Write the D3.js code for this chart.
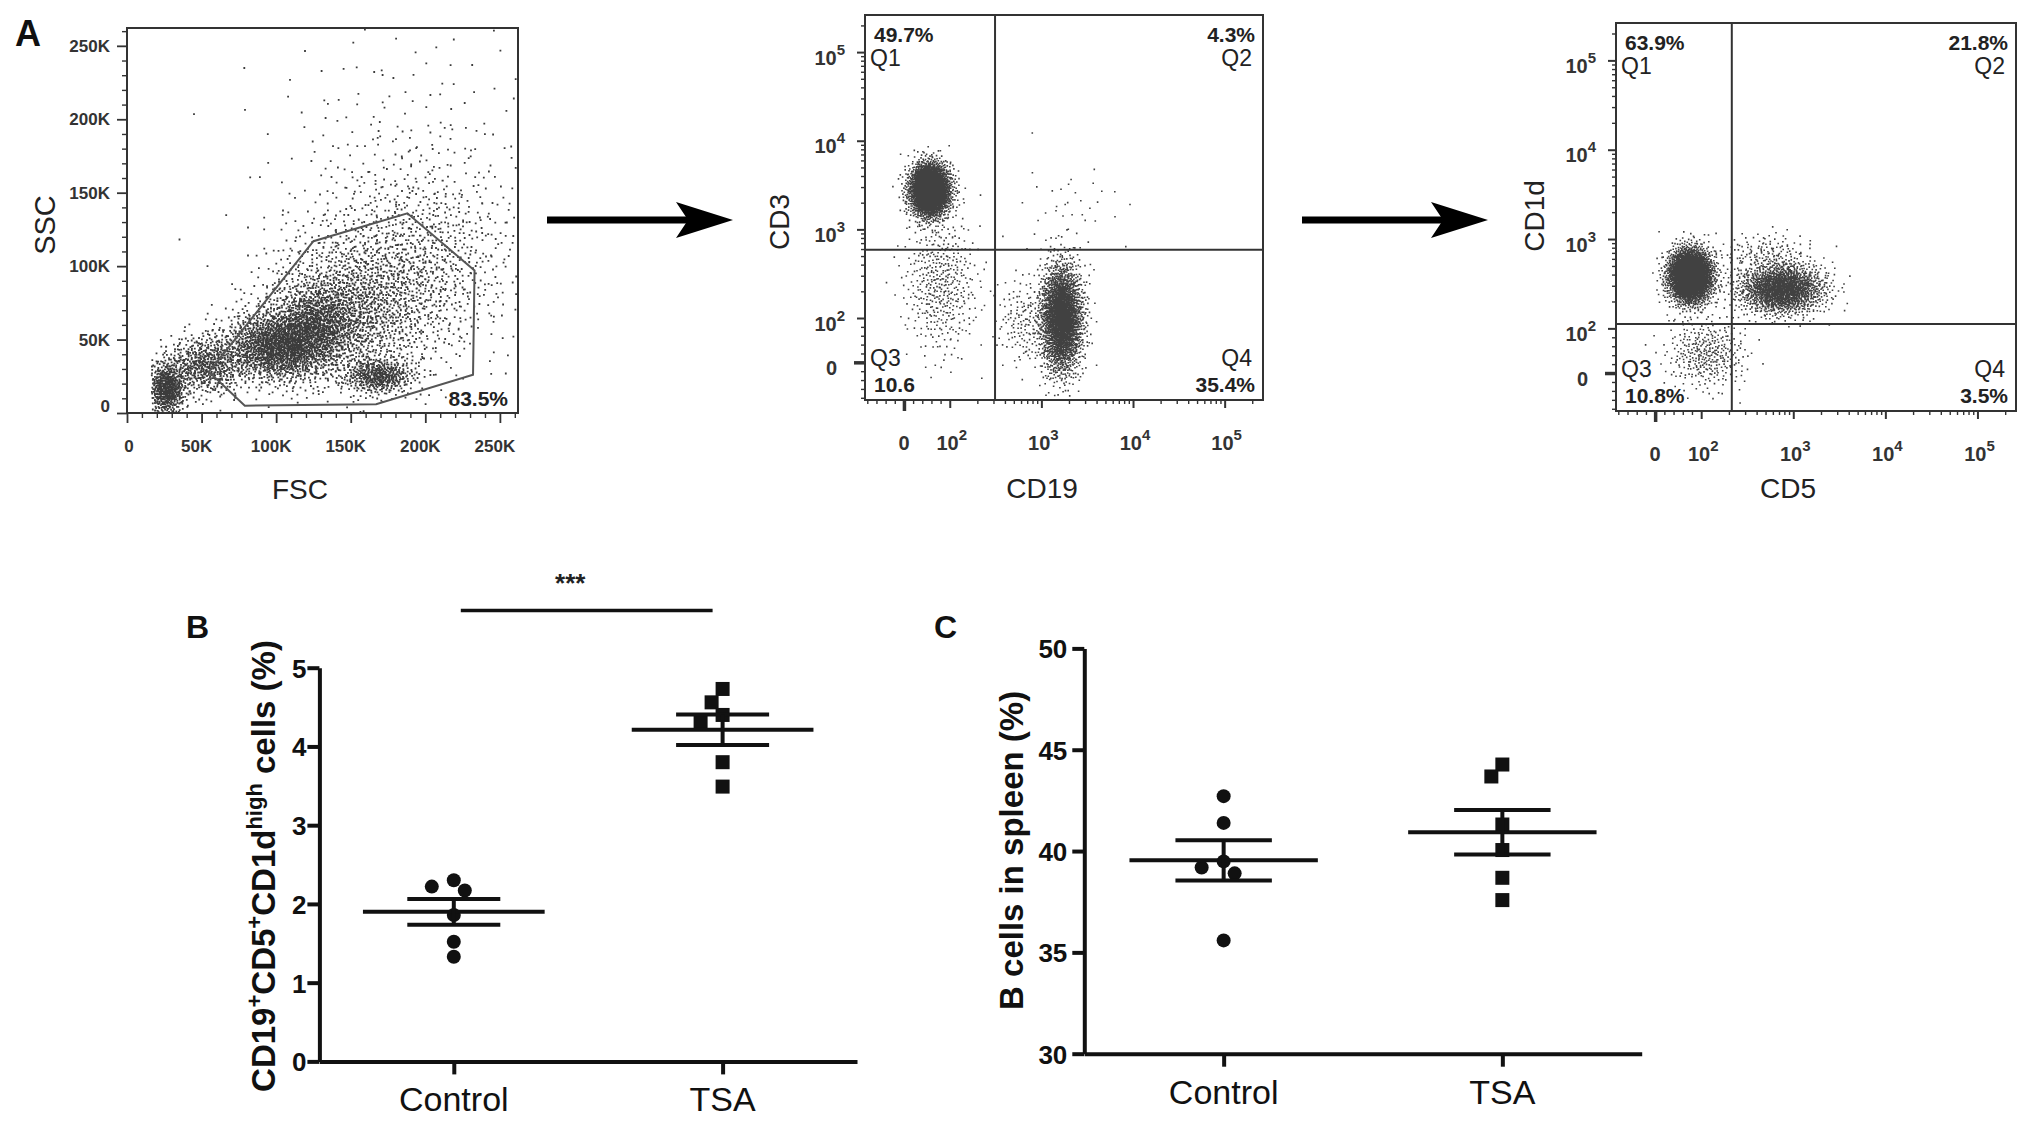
<!DOCTYPE html>
<html>
<head>
<meta charset="utf-8">
<title>Regulatory B cells - gating and TSA</title>
<script src="https://cdn.jsdelivr.net/npm/d3@7"></script>
<style>
  body { margin: 0; background: #fff; }
  text { font-family: "Liberation Sans", Arial, sans-serif; }
</style>
</head>
<body>
<div id="chart"></div>
<script>

// ---------- data ----------

// Panel A, FSC / SSC (values in K)
var fscTicks = [0, 50, 100, 150, 200, 250];
var fscGate = [[55, 28], [125, 117], [188, 136], [233, 97], [232, 26], [167, 6], [79, 5]];
var fscGatePct = "83.5%";
// populations: [centre FSC, centre SSC, spread FSC, spread SSC, events]
var fscPops = [
  [26, 17, 6, 9, 550],
  [52, 33, 14, 10, 600],
  [102, 46, 19, 12, 1700],
  [127, 62, 15, 13, 800],
  [150, 72, 30, 26, 1500],
  [168, 26, 12, 6, 450],
  [195, 105, 33, 33, 800],
  [185, 165, 50, 50, 250]
];

// CD19 / CD3 (centres as intensities, spread in decades)
var cd19Pops = [
  [55, 2840, 0.11, 0.15, 2600],
  [79, 250, 0.2, 0.4, 450],
  [1630, 100, 0.115, 0.3, 2500],
  [620, 94, 0.15, 0.25, 150],
  [2000, 1580, 0.3, 0.3, 40]
];
var cd19Gate = [312, 590];
var cd19Quads = ["49.7%", "4.3%", "10.6", "35.4%"];

// CD5 / CD1d
var cd5Pops = [
  [75, 395, 0.12, 0.15, 2800],
  [733, 281, 0.23, 0.14, 1700],
  [112, 45, 0.22, 0.2, 350],
  [500, 700, 0.25, 0.12, 150]
];
var cd5Gate = [215, 112];
var cd5Quads = ["63.9%", "21.8%", "10.8%", "3.5%"];

var logTicks = [0, 1e2, 1e3, 1e4, 1e5];

// Panels B and C
var groups = ["Control", "TSA"];
var bregControl = [2.30, 2.22, 2.17, 1.86, 1.52, 1.33];
var bregTSA = [4.73, 4.56, 4.40, 4.30, 3.80, 3.49];
var bregTicks = [0, 1, 2, 3, 4, 5];
var bcellControl = [42.71, 41.39, 39.49, 39.19, 38.90, 35.59];
var bcellTSA = [44.27, 43.68, 41.31, 40.05, 38.68, 37.58];
var bcellTicks = [30, 35, 40, 45, 50];

// ---------- helpers ----------

var svg = d3.select("#chart").append("svg")
  .attr("width", 2031).attr("height", 1129)
  .style("background", "#fff");

// biexponential-like display: linear below 100, log above
function biex(v) { return v <= 100 ? v / 200 : 0.5 + Math.log10(v / 100); }

// low discrepancy sequence, spreads the events of each population
function halton(i, b) {
  var f = 1, r = 0;
  while (i > 0) { f /= b; r += f * (i % b); i = Math.floor(i / b); }
  return r;
}
function spread(pops, offset) {
  var pts = [], k = offset;
  pops.forEach(function(p) {
    for (var j = 0; j < p[4]; j++, k++) {
      var u1 = halton(k + 1, 2), u2 = halton(k + 1, 3);
      var r = Math.sqrt(-2 * Math.log(u1)), a = 2 * Math.PI * u2;
      pts.push([p[0], p[1], p[2] * r * Math.cos(a), p[3] * r * Math.sin(a)]);
    }
  });
  return pts;
}
function dotPath(pts, fx, fy, s) {
  var out = "";
  pts.forEach(function(p) {
    var x = fx(p), y = fy(p);
    if (x == null || y == null) return;
    out += "M" + x.toFixed(1) + "," + y.toFixed(1) + "h" + s + "v" + s + "h-" + s + "z";
  });
  return out;
}
function styleTicks(g, w) {
  g.select(".domain").remove();
  g.selectAll("line").attr("stroke", "#333").attr("stroke-width", w);
}
function arrow(x0, x1, y) {
  svg.append("line").attr("x1", x0).attr("x2", x1 - 40).attr("y1", y).attr("y2", y)
    .attr("stroke", "#000").attr("stroke-width", 7);
  svg.append("path")
    .attr("d", "M" + x1 + "," + y + "L" + (x1 - 57) + "," + (y - 18) + "L" + (x1 - 45) + "," + y +
      "L" + (x1 - 57) + "," + (y + 18) + "Z")
    .attr("fill", "#000");
}

// ---------- panel A : FSC / SSC ----------
var A = {x0: 127, x1: 518, y0: 28, y1: 413};
var ax = d3.scaleLinear().domain([0, 262.144]).range([A.x0, A.x1]);
var ay = d3.scaleLinear().domain([0, 262.144]).range([A.y1, A.y0]);

svg.append("clipPath").attr("id", "clipA").append("rect")
  .attr("x", A.x0).attr("y", A.y0).attr("width", A.x1 - A.x0).attr("height", A.y1 - A.y0);

var ptsA = spread(fscPops, 0);
svg.append("path").attr("clip-path", "url(#clipA)")
  .attr("fill", "#1a1a1a").attr("fill-opacity", 0.85)
  .attr("d", dotPath(ptsA,
    function(p) { var v = p[0] + p[2]; return v < 16 ? null : ax(v); },
    function(p) { var v = p[1] + p[3]; return v < 0 ? null : ay(v); }, 1.8));

svg.append("path")
  .attr("d", d3.line().x(function(d) { return ax(d[0]); }).y(function(d) { return ay(d[1]); })
    .curve(d3.curveLinearClosed)(fscGate))
  .attr("fill", "none").attr("stroke", "#555").attr("stroke-width", 2);

svg.append("rect").attr("x", A.x0).attr("y", A.y0)
  .attr("width", A.x1 - A.x0).attr("height", A.y1 - A.y0)
  .attr("fill", "none").attr("stroke", "#333").attr("stroke-width", 2);

var minorA = d3.range(10, 262, 10).filter(function(v) { return v % 50 !== 0; });
svg.append("g").attr("transform", "translate(0," + A.y1 + ")")
  .call(d3.axisBottom(ax).tickValues(fscTicks).tickSize(10).tickFormat(""))
  .call(styleTicks, 1.8);
svg.append("g").attr("transform", "translate(0," + A.y1 + ")")
  .call(d3.axisBottom(ax).tickValues(minorA).tickSize(5).tickFormat(""))
  .call(styleTicks, 1.4);
svg.append("g").attr("transform", "translate(" + A.x0 + ",0)")
  .call(d3.axisLeft(ay).tickValues(fscTicks).tickSize(10).tickFormat(""))
  .call(styleTicks, 1.8);
svg.append("g").attr("transform", "translate(" + A.x0 + ",0)")
  .call(d3.axisLeft(ay).tickValues(minorA).tickSize(5).tickFormat(""))
  .call(styleTicks, 1.4);

function kLabel(v) { return v === 0 ? "0" : v + "K"; }
svg.append("g").selectAll("text").data(fscTicks).join("text")
  .attr("x", function(d) { return ax(d) - (d === 0 ? -2 : 5); })
  .attr("y", A.y1 + 39)
  .attr("text-anchor", "middle").attr("font-size", 17).attr("font-weight", "bold").attr("fill", "#333")
  .text(kLabel);
svg.append("g").selectAll("text").data(fscTicks).join("text")
  .attr("x", A.x0 - 17)
  .attr("y", function(d) { return ay(d) + (d === 0 ? -1 : 6); })
  .attr("text-anchor", "end").attr("font-size", 17).attr("font-weight", "bold").attr("fill", "#333")
  .text(kLabel);

svg.append("text").attr("x", A.x1 - 10).attr("y", A.y1 - 7)
  .attr("text-anchor", "end").attr("font-size", 21).attr("font-weight", "bold").attr("fill", "#222")
  .text(fscGatePct);
svg.append("text").attr("x", 300).attr("y", 499)
  .attr("text-anchor", "middle").attr("font-size", 28).attr("fill", "#222").text("FSC");
svg.append("text").attr("transform", "translate(55,225) rotate(-90)")
  .attr("text-anchor", "middle").attr("font-size", 29).attr("fill", "#222").text("SSC");
svg.append("text").attr("x", 15).attr("y", 46)
  .attr("font-size", 36).attr("font-weight", "bold").attr("fill", "#111").text("A");

// ---------- quadrant panels ----------
function logPanel(id, B, pops, offset, gate, quads, xTitle, yTitle, xt, yt) {
  var x = d3.scaleLinear().domain([biex(-85), biex(262144)]).range([B.x0, B.x1]);
  var y = d3.scaleLinear().domain([biex(-85), biex(262144)]).range([B.y1, B.y0]);

  svg.append("clipPath").attr("id", id).append("rect")
    .attr("x", B.x0).attr("y", B.y0).attr("width", B.x1 - B.x0).attr("height", B.y1 - B.y0);

  var pts = spread(pops, offset);
  svg.append("path").attr("clip-path", "url(#" + id + ")")
    .attr("fill", "#111").attr("fill-opacity", 0.8)
    .attr("d", dotPath(pts,
      function(p) { return x(biex(p[0]) + p[2]); },
      function(p) { return y(biex(p[1]) + p[3]); }, 1.6));

  // quadrant gates
  svg.append("line").attr("x1", x(biex(gate[0]))).attr("x2", x(biex(gate[0])))
    .attr("y1", B.y0).attr("y2", B.y1).attr("stroke", "#333").attr("stroke-width", 2);
  svg.append("line").attr("x1", B.x0).attr("x2", B.x1)
    .attr("y1", y(biex(gate[1]))).attr("y2", y(biex(gate[1]))).attr("stroke", "#333").attr("stroke-width", 2);

  svg.append("rect").attr("x", B.x0).attr("y", B.y0)
    .attr("width", B.x1 - B.x0).attr("height", B.y1 - B.y0)
    .attr("fill", "none").attr("stroke", "#333").attr("stroke-width", 2);

  // ticks
  var minors = [-80, -60, -40, -20, 20, 40, 60, 80];
  [100, 1000, 10000].forEach(function(dec) {
    for (var k = 2; k <= 9; k++) minors.push(k * dec);
  });
  minors.push(200000);
  var tx = function(v) { return x(biex(v)); }, ty = function(v) { return y(biex(v)); };
  var sx = d3.scaleLinear().domain(x.range()).range(x.range());
  var sy = d3.scaleLinear().domain(y.range()).range(y.range());
  svg.append("g").attr("transform", "translate(0," + B.y1 + ")")
    .call(d3.axisBottom(sx).tickValues(logTicks.slice(1).map(tx)).tickSize(8).tickFormat(""))
    .call(styleTicks, 2);
  svg.append("g").attr("transform", "translate(0," + B.y1 + ")")
    .call(d3.axisBottom(sx).tickValues(minors.map(tx)).tickSize(4).tickFormat(""))
    .call(styleTicks, 1.4);
  svg.append("g").attr("transform", "translate(0," + B.y1 + ")")
    .call(d3.axisBottom(sx).tickValues([tx(0)]).tickSize(11).tickFormat(""))
    .call(styleTicks, 3.5);
  svg.append("g").attr("transform", "translate(" + B.x0 + ",0)")
    .call(d3.axisLeft(sy).tickValues(logTicks.slice(1).map(ty)).tickSize(8).tickFormat(""))
    .call(styleTicks, 2);
  svg.append("g").attr("transform", "translate(" + B.x0 + ",0)")
    .call(d3.axisLeft(sy).tickValues(minors.map(ty)).tickSize(4).tickFormat(""))
    .call(styleTicks, 1.4);
  svg.append("g").attr("transform", "translate(" + B.x0 + ",0)")
    .call(d3.axisLeft(sy).tickValues([ty(0)]).tickSize(11).tickFormat(""))
    .call(styleTicks, 3.5);

  // tick labels
  function powLabel(sel) {
    sel.each(function(d) {
      var t = d3.select(this);
      if (d === 0) { t.text("0"); return; }
      t.append("tspan").text("10");
      t.append("tspan").attr("font-size", 15).attr("dy", -10).text(Math.round(Math.log10(d)));
    });
  }
  svg.append("g").selectAll("text").data(logTicks).join("text")
    .attr("x", function(d) { return tx(d) + (d === 0 ? 0 : 2); })
    .attr("y", B.y1 + 50)
    .attr("text-anchor", "middle").attr("font-size", 20).attr("font-weight", "bold").attr("fill", "#333")
    .call(powLabel);
  svg.append("g").selectAll("text").data(logTicks).join("text")
    .attr("x", function(d) { return B.x0 - (d === 0 ? 28 : 20); })
    .attr("y", function(d) { return ty(d) + 12.5; })
    .attr("text-anchor", "end").attr("font-size", 20).attr("font-weight", "bold").attr("fill", "#333")
    .call(powLabel);

  // quadrant labels
  var q = [
    {t: quads[0], x: B.x0 + 9, y: B.y0 + 27, a: "start", b: true},
    {t: "Q1", x: B.x0 + 5, y: B.y0 + 51, a: "start"},
    {t: quads[1], x: B.x1 - 8, y: B.y0 + 27, a: "end", b: true},
    {t: "Q2", x: B.x1 - 11, y: B.y0 + 51, a: "end"},
    {t: "Q3", x: B.x0 + 5, y: B.y1 - 34, a: "start"},
    {t: quads[2], x: B.x0 + 9, y: B.y1 - 8, a: "start", b: true},
    {t: "Q4", x: B.x1 - 11, y: B.y1 - 34, a: "end"},
    {t: quads[3], x: B.x1 - 8, y: B.y1 - 8, a: "end", b: true}
  ];
  svg.append("g").selectAll("text").data(q).join("text")
    .attr("x", function(d) { return d.x; }).attr("y", function(d) { return d.y; })
    .attr("text-anchor", function(d) { return d.a; })
    .attr("font-size", function(d) { return d.b ? 21 : 23; })
    .attr("font-weight", function(d) { return d.b ? "bold" : "normal"; })
    .attr("fill", "#222")
    .text(function(d) { return d.t; });

  svg.append("text").attr("x", xt[0]).attr("y", xt[1] + 10)
    .attr("text-anchor", "middle").attr("font-size", 28).attr("fill", "#222").text(xTitle);
  svg.append("text").attr("transform", "translate(" + (yt[0] + 10) + "," + yt[1] + ") rotate(-90)")
    .attr("text-anchor", "middle").attr("font-size", 28).attr("fill", "#222").text(yTitle);
}

logPanel("clipQ1", {x0: 865, x1: 1263, y0: 15, y1: 400}, cd19Pops, 20000, cd19Gate, cd19Quads,
  "CD19", "CD3", [1042, 488], [779, 222]);
logPanel("clipQ2", {x0: 1616, x1: 2016, y0: 23, y1: 411}, cd5Pops, 40000, cd5Gate, cd5Quads,
  "CD5", "CD1d", [1788, 488], [1534, 216]);

arrow(547, 733, 220);
arrow(1302, 1488, 220);

// ---------- panels B and C : column scatter with mean and SEM ----------
function swarm(vals, y, d, r) {
  var placed = [];
  return vals.map(function(v) {
    var py = y(v), off = 0, cands = [0, -d, d, -2 * d, 2 * d];
    for (var i = 0; i < cands.length; i++) {
      var c = cands[i];
      if (placed.every(function(p) { return Math.hypot(p[0] - c, p[1] - py) >= 2 * r; })) { off = c; break; }
    }
    placed.push([off, py]);
    return off;
  });
}

function dotPanel(cfg) {
  var y = d3.scaleLinear().domain(d3.extent(cfg.ticks)).range([cfg.yBottom, cfg.yTop]);
  var x = d3.scalePoint().domain(groups).range([cfg.xAxis, cfg.xEnd]).padding(0.5);
  var step = x.step();

  var gy = svg.append("g").attr("transform", "translate(" + cfg.xAxis + ",0)")
    .call(d3.axisLeft(y).tickValues(cfg.ticks).tickFormat(d3.format("d"))
      .tickSize(12).tickSizeOuter(0).tickPadding(cfg.pad));
  gy.select(".domain").attr("stroke", "#111").attr("stroke-width", 4);
  gy.selectAll("line").attr("stroke", "#111").attr("stroke-width", 4);
  gy.selectAll("text").attr("font-size", 26).attr("font-weight", "bold").attr("fill", "#111")
    .attr("font-family", '"Liberation Sans", Arial, sans-serif').attr("dy", "0.36em");

  var gx = svg.append("g").attr("transform", "translate(0," + cfg.yBottom + ")")
    .call(d3.axisBottom(x).tickSize(13).tickSizeOuter(0).tickFormat(""));
  gx.select(".domain").attr("stroke", "#111").attr("stroke-width", 4);
  gx.selectAll("line").attr("stroke", "#111").attr("stroke-width", 4);

  svg.append("g").selectAll("text").data(groups).join("text")
    .attr("x", function(d) { return x(d); }).attr("y", cfg.yBottom + 50)
    .attr("text-anchor", "middle").attr("font-size", 34).attr("fill", "#111")
    .text(function(d) { return d; });

  cfg.series.forEach(function(vals, i) {
    var g = groups[i], cx = x(g);
    var offs = swarm(vals, y, 11, 7);
    if (i === 0) {
      svg.append("g").selectAll("circle").data(vals).join("circle")
        .attr("cx", function(d, j) { return cx + offs[j]; }).attr("cy", function(d) { return y(d); })
        .attr("r", 7).attr("fill", "#111");
    } else {
      svg.append("g").selectAll("rect").data(vals).join("rect")
        .attr("x", function(d, j) { return cx + offs[j] - 7; }).attr("y", function(d) { return y(d) - 7; })
        .attr("width", 14).attr("height", 14).attr("fill", "#111");
    }
    var m = d3.mean(vals), sem = d3.deviation(vals) / Math.sqrt(vals.length);
    var bars = svg.append("g").attr("stroke", "#111").attr("stroke-width", 4);
    bars.append("line").attr("x1", cx - 0.338 * step).attr("x2", cx + 0.338 * step)
      .attr("y1", y(m)).attr("y2", y(m));
    [m - sem, m + sem].forEach(function(v) {
      bars.append("line").attr("x1", cx - 0.173 * step).attr("x2", cx + 0.173 * step)
        .attr("y1", y(v)).attr("y2", y(v));
    });
    bars.append("line").attr("x1", cx).attr("x2", cx).attr("y1", y(m - sem)).attr("y2", y(m + sem));
  });

  var title = svg.append("text")
    .attr("transform", "translate(" + cfg.title[0] + "," + cfg.title[1] + ") rotate(-90)")
    .attr("text-anchor", "middle").attr("font-size", 33).attr("font-weight", "bold").attr("fill", "#111");
  cfg.titleParts.forEach(function(p) {
    var t = title.append("tspan").text(p[0]);
    if (p[1]) t.attr("font-size", 22).attr("dy", -13);
    else if (p[2]) t.attr("dy", 13);
  });

  svg.append("text").attr("x", cfg.letter[0]).attr("y", cfg.letter[1])
    .attr("font-size", 32).attr("font-weight", "bold").attr("fill", "#111").text(cfg.letter[2]);

  return {x: x, y: y};
}

var pB = dotPanel({
  ticks: bregTicks, yBottom: 1061.4, yTop: 667.7, xAxis: 319.4, xEnd: 857, pad: 1,
  series: [bregControl, bregTSA],
  title: [275, 866],
  titleParts: [["CD19"], ["+", true], ["CD5", false, true], ["+", true], ["CD1d", false, true],
    ["high", true], [" cells (%)", false, true]],
  letter: [186, 638, "B"]
});
svg.append("line").attr("x1", pB.x("Control") + 7).attr("x2", pB.x("TSA") - 10)
  .attr("y1", 610.6).attr("y2", 610.6).attr("stroke", "#111").attr("stroke-width", 3.5);
svg.append("text").attr("x", (pB.x("Control") + pB.x("TSA")) / 2 - 18).attr("y", 592)
  .attr("text-anchor", "middle").attr("font-size", 26).attr("font-weight", "bold").attr("fill", "#222")
  .text("***");

dotPanel({
  ticks: bcellTicks, yBottom: 1053.7, yTop: 648.4, xAxis: 1084.3, xEnd: 1641.7, pad: 5,
  series: [bcellControl, bcellTSA],
  title: [1023, 850.4],
  titleParts: [["B cells in spleen (%)"]],
  letter: [934, 638, "C"]
});

</script>
</body>
</html>
